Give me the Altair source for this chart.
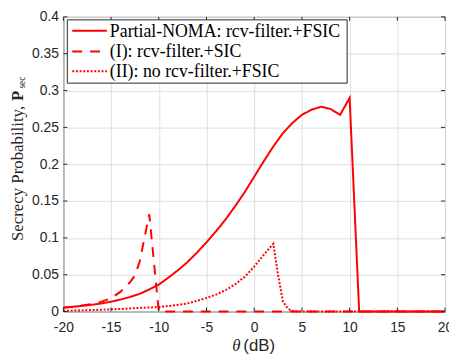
import altair as alt
import pandas as pd

SERIES = ["Partial-NOMA: rcv-filter.+FSIC", "(I): rcv-filter.+SIC", "(II): no rcv-filter.+FSIC"]
DASHES = [[1, 0], [10, 8], [2, 1.7]]

theta_a = [-20, -19, -18, -17, -16, -15, -14, -13, -12, -11,
           -10, -9, -8, -7, -6, -5, -4, -3, -2, -1,
           0, 1, 2, 3, 4, 5, 6, 7, 8, 9,
           10, 11, 20]
psec_a = [0.0055, 0.0065, 0.0078, 0.0092, 0.0110, 0.0134, 0.0163, 0.0198, 0.0240, 0.0300,
          0.0366, 0.0460, 0.0560, 0.0670, 0.0800, 0.0940, 0.1090, 0.1250, 0.1430, 0.1620,
          0.1830, 0.2040, 0.2240, 0.2420, 0.2560, 0.2670, 0.2740, 0.2780, 0.2750, 0.2670,
          0.2900, 0.0, 0.0]

theta_b = [-20, -19, -18, -17, -16, -15, -14, -13, -12.5, -12, -11.5, -11, -10, 20]
psec_b = [0.0050, 0.0065, 0.0083, 0.0102, 0.0135, 0.0180, 0.0270, 0.0400, 0.0490, 0.0680,
          0.1000, 0.1320, 0.0, 0.0]

theta_c = [-20, -19, -18, -17, -16, -15, -14, -13, -12, -11,
           -10, -9, -8, -7, -6, -5, -4, -3, -2, -1,
           0, 1, 2, 2.5, 3, 3.5, 4, 4.5, 20]
psec_c = [0.0010, 0.0013, 0.0016, 0.0020, 0.0025, 0.0030, 0.0035, 0.0042, 0.0050, 0.0055,
          0.0062, 0.0075, 0.0090, 0.0110, 0.0145, 0.0185, 0.0230, 0.0290, 0.0370, 0.0470,
          0.0610, 0.0770, 0.0920, 0.0500, 0.0140, 0.0040, 0.0010, 0.0, 0.0]

x_ticks = [-20, -15, -10, -5, 0, 5, 10, 15, 20]
y_ticks = [0, 0.05, 0.1, 0.15, 0.2, 0.25, 0.3, 0.35, 0.4]

W, H = 386, 298
RED = "#ff0000"
AX = "#262626"

rows = []
for name, xs, ys in [(SERIES[0], theta_a, psec_a), (SERIES[1], theta_b, psec_b), (SERIES[2], theta_c, psec_c)]:
    for i, (xv, yv) in enumerate(zip(xs, ys)):
        rows.append({"series": name, "theta": xv, "p": yv, "idx": i})
df = pd.DataFrame(rows)

xscale = alt.Scale(domain=[-20, 20], nice=False, zero=False)
yscale = alt.Scale(domain=[0, 0.4], nice=False, zero=False)
xaxis = alt.Axis(values=x_ticks, grid=True, gridColor="#dfdfdf", gridWidth=1,
                 ticks=False, tickSize=0, domain=False, labelExpr="'' + datum.value",
                 labelFont="Liberation Sans", labelFontSize=14, labelColor=AX,
                 labelPadding=9, labelFlush=False, labelOverlap=False)
yaxis = alt.Axis(values=y_ticks, grid=True, gridColor="#dfdfdf", gridWidth=1,
                 ticks=False, tickSize=0, domain=False, labelExpr="'' + datum.value",
                 labelFont="Liberation Sans", labelFontSize=14, labelColor=AX,
                 labelPadding=5, labelFlush=False, labelOverlap=False)

lines = alt.Chart(df).mark_line(color=RED, strokeWidth=2, clip=False).encode(
    x=alt.X("theta:Q", scale=xscale, title=None, axis=xaxis),
    y=alt.Y("p:Q", scale=yscale, title=None, axis=yaxis),
    strokeDash=alt.StrokeDash("series:N", scale=alt.Scale(domain=SERIES, range=DASHES), legend=None),
    order="idx:Q",
)

xt = pd.DataFrame({"theta": x_ticks})
yt = pd.DataFrame({"p": y_ticks})
tb = alt.Chart(xt).mark_rule(color=AX, strokeWidth=1).encode(
    x=alt.X("theta:Q", scale=xscale, title=None, axis=xaxis), y=alt.value(H), y2=alt.value(H - 4))
tt = alt.Chart(xt).mark_rule(color=AX, strokeWidth=1).encode(
    x=alt.X("theta:Q", scale=xscale, title=None, axis=xaxis), y=alt.value(0), y2=alt.value(4))
tl = alt.Chart(yt).mark_rule(color=AX, strokeWidth=1).encode(
    y=alt.Y("p:Q", scale=yscale, title=None, axis=yaxis), x=alt.value(0), x2=alt.value(4))
tr = alt.Chart(yt).mark_rule(color=AX, strokeWidth=1).encode(
    y=alt.Y("p:Q", scale=yscale, title=None, axis=yaxis), x=alt.value(W), x2=alt.value(W - 4))

one = pd.DataFrame({"k": [0]})

# legend box (manual)
legend_layers = [
    alt.Chart(one).mark_rect(fill="white", stroke=AX, strokeWidth=1).encode(
        x=alt.value(4), x2=alt.value(287), y=alt.value(3), y2=alt.value(67))
]
row_y = [14, 35, 55]
for name, dash, ry in zip(SERIES, DASHES, row_y):
    legend_layers.append(
        alt.Chart(one).mark_rule(color=RED, strokeWidth=2, strokeDash=dash).encode(
            x=alt.value(9), x2=alt.value(44), y=alt.value(ry)))
    legend_layers.append(
        alt.Chart(one).mark_text(text=name, align="left", baseline="middle",
                                 font="Liberation Serif", fontSize=18, color="black").encode(
            x=alt.value(47), y=alt.value(ry + 1)))

ytitle_main = alt.Chart(one).mark_text(
    text="Secrecy Probability,", angle=270, align="right", baseline="alphabetic",
    font="Liberation Serif", fontSize=17, color=AX).encode(x=alt.value(-41), y=alt.value(90))
ytitle_p = alt.Chart(one).mark_text(
    text="P", angle=270, align="left", baseline="alphabetic",
    font="Liberation Serif", fontSize=17, fontWeight="bold", color=AX).encode(x=alt.value(-41), y=alt.value(85))
ytitle_sub = alt.Chart(one).mark_text(
    text="sec", angle=270, align="left", baseline="alphabetic",
    font="Liberation Serif", fontSize=9.5, color=AX).encode(x=alt.value(-39), y=alt.value(72.5))
xtitle_theta = alt.Chart(one).mark_text(
    text="θ", align="center", baseline="alphabetic", font="Liberation Serif",
    fontStyle="italic", fontSize=17, color=AX).encode(x=alt.value(175), y=alt.value(338))
xtitle_db = alt.Chart(one).mark_text(
    text="(dB)", align="left", baseline="alphabetic", font="Liberation Sans",
    fontSize=17, color=AX).encode(x=alt.value(182), y=alt.value(338))

chart = alt.layer(
    lines, tb, tt, tl, tr, *legend_layers, ytitle_main, ytitle_p, ytitle_sub, xtitle_theta, xtitle_db
).properties(
    width=W, height=H,
    autosize=alt.AutoSizeParams(type="none"),
    padding={"left": 56, "top": 7, "right": 4, "bottom": 45},
    background="white",
).configure_view(stroke=AX, strokeWidth=1)

chart.save("out.html", embed_options={"renderer": "svg", "actions": False})
